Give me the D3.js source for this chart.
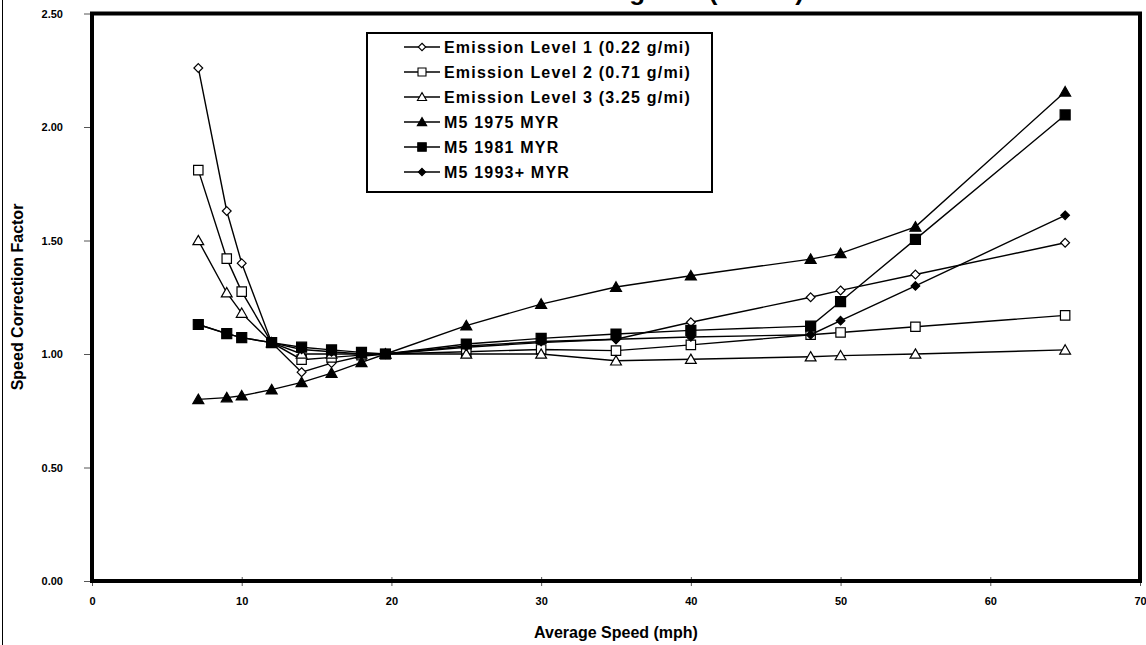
<!DOCTYPE html>
<html><head><meta charset="utf-8">
<script src="https://cdn.jsdelivr.net/npm/d3@7"></script>
<style>
body{margin:0;background:#fff;}
svg{display:block;}
text{font-family:Arial,"Liberation Sans",sans-serif;font-weight:bold;fill:#000;}
</style>
</head><body>
<svg id="c" width="1146" height="645"></svg>
<script>
const titleText = "LDGV Exhaust Running LA4 (NMHC)";
const xTicks = [0,10,20,30,40,50,60,70];
const yTicks = [0,0.5,1.0,1.5,2.0,2.5];
const speeds = [7.1,9,10,12,14,16,18,19.6,25,30,35,40,48,50,55,65];
const level1 = [2.26,1.63,1.40,1.05,0.92,0.96,0.99,1.00,1.03,1.05,1.065,1.14,1.25,1.28,1.35,1.49];
const level2 = [1.81,1.42,1.275,1.05,0.975,0.985,0.995,1.00,1.01,1.02,1.015,1.04,1.085,1.095,1.12,1.17];
const level3 = [1.50,1.27,1.18,1.05,1.00,1.00,1.00,1.00,1.00,1.00,0.97,0.977,0.988,0.993,1.00,1.018];
const m5_1975 = [0.80,0.808,0.816,0.843,0.875,0.916,0.963,1.00,1.125,1.22,1.295,1.345,1.418,1.443,1.56,2.155];
const m5_1981 = [1.13,1.09,1.072,1.05,1.03,1.018,1.007,1.00,1.044,1.069,1.088,1.104,1.123,1.231,1.505,2.053];
const m5_1993 = [1.13,1.09,1.072,1.05,1.02,1.01,1.00,1.00,1.035,1.055,1.065,1.075,1.085,1.147,1.30,1.611];
const seriesNames = ["Emission Level 1 (0.22 g/mi)","Emission Level 2 (0.71 g/mi)","Emission Level 3 (3.25 g/mi)","M5 1975 MYR","M5 1981 MYR","M5 1993+ MYR"];
const seriesValues = [level1, level2, level3, m5_1975, m5_1981, m5_1993];
const seriesMarkers = ["diamond","square","triangle","triangle","square","diamond"];
const seriesFilled = [false,false,false,true,true,true];

const svg = d3.select("#c");
const W = 1146, H = 645;
const x = d3.scaleLinear().domain([0,70]).range([92,1140]);
const y = d3.scaleLinear().domain([0,2.5]).range([581,13.5]);

// figure left edge line
svg.append("line").attr("x1",2.5).attr("x2",2.5).attr("y1",0).attr("y2",H).attr("stroke","#000").attr("stroke-width",1);

// title (mostly cropped off the top, as in the source)
svg.append("text").attr("x",804).attr("y",-0.5).attr("text-anchor","end")
  .style("font-size","26px").text(titleText);

function markerPath(type, s){
  if(type==="diamond"){ return `M0,${-s}L${s},0L0,${s}L${-s},0Z`; }
  if(type==="square"){ return `M${-s},${-s}H${s}V${s}H${-s}Z`; }
  return `M0,${-s*1.05}L${s*1.1},${s*0.85}L${-s*1.1},${s*0.85}Z`;
}
function markerSize(type, filled){
  if(type==="diamond") return filled?4.3:4.4;
  if(type==="square") return filled?5:4.7;
  return filled?5:4.9;
}

// axes
const yAxis = d3.axisLeft(y).tickValues(yTicks).tickFormat(d3.format(".2f")).tickSize(8).tickPadding(21);
const gy = svg.append("g").attr("transform","translate(92,0)").call(yAxis);
gy.select(".domain").remove();
gy.selectAll(".tick line").attr("stroke","#555").attr("stroke-width",1);
gy.selectAll(".tick text").style("font-size","11px").attr("dy","0.35em");

const xAxis = d3.axisBottom(x).tickValues(xTicks).tickFormat(d3.format("d")).tickSize(5).tickPadding(11);
const gx = svg.append("g").attr("transform","translate(0,581)").call(xAxis);
gx.select(".domain").remove();
gx.selectAll(".tick line").attr("y1",-4).attr("stroke","#555").attr("stroke-width",1);
gx.selectAll(".tick text").style("font-size","11px");

// series lines and markers
const line = d3.line().x((d,i)=>x(speeds[i])).y(d=>y(d));
seriesValues.forEach((vals,si)=>{
  const g = svg.append("g");
  g.append("path").attr("d",line(vals)).attr("fill","none").attr("stroke","#000").attr("stroke-width",1.4);
  const t = seriesMarkers[si], f = seriesFilled[si];
  g.selectAll("path.m").data(vals).enter().append("path").attr("class","m")
    .attr("transform",(d,i)=>`translate(${x(speeds[i])},${y(d)})`)
    .attr("d",markerPath(t, markerSize(t,f)))
    .attr("fill", f?"#000":"#fff").attr("stroke","#000").attr("stroke-width",1.2);
});

// plot frame
svg.append("rect").attr("x",x(0)).attr("y",y(2.5)).attr("width",x(70)-x(0)).attr("height",y(0)-y(2.5))
  .attr("fill","none").attr("stroke","#000").attr("stroke-width",4);

// legend
const lg = svg.append("g");
lg.append("rect").attr("x",367).attr("y",33).attr("width",345).attr("height",159)
  .attr("fill","#fff").attr("stroke","#000").attr("stroke-width",2);
seriesNames.forEach((name,i)=>{
  const cy = 47 + i*25;
  lg.append("line").attr("x1",404).attr("x2",440).attr("y1",cy).attr("y2",cy).attr("stroke","#000").attr("stroke-width",1.4);
  const t = seriesMarkers[i], f = seriesFilled[i];
  lg.append("path").attr("transform",`translate(422,${cy})`).attr("d",markerPath(t, markerSize(t,f)*0.85))
    .attr("fill", f?"#000":"#fff").attr("stroke","#000").attr("stroke-width",1.1);
  lg.append("text").attr("x",444).attr("y",cy).attr("dy","0.36em").style("font-size","16px")
    .style("letter-spacing","1.2px").text(name);
});

// axis titles
svg.append("text").attr("x",616).attr("y",638).attr("text-anchor","middle").style("font-size","16px").text("Average Speed (mph)");
svg.append("text").attr("transform","translate(23,297) rotate(-90)").attr("text-anchor","middle").style("font-size","16px").text("Speed Correction Factor");
</script>
</body></html>
